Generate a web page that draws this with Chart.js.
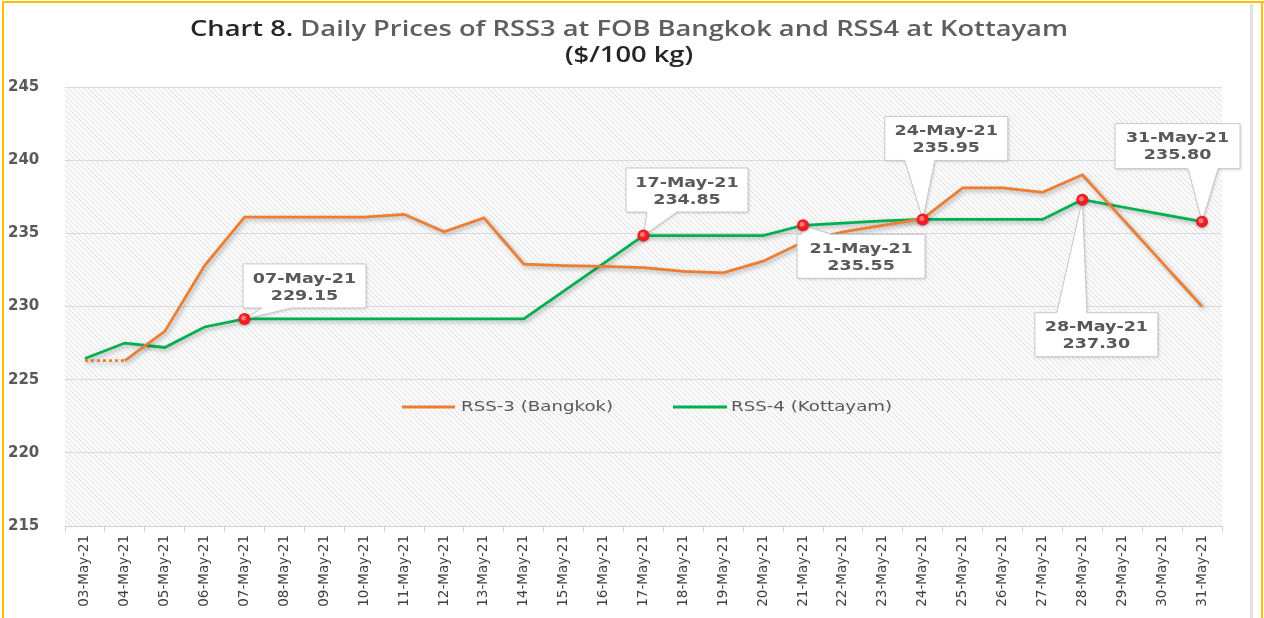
<!DOCTYPE html>
<html>
<head>
<meta charset="utf-8">
<script src="https://cdn.jsdelivr.net/npm/chart.js@4.4.1/dist/chart.umd.min.js"></script>
<style>
  html, body { margin: 0; padding: 0; background: #ffffff; }
  #wrap { position: relative; width: 1264px; height: 618px; }
  canvas { display: block; }
</style>
</head>
<body>
<div id="wrap"><canvas id="c" width="1264" height="618"></canvas></div>
<script>
// ---------- data ----------
const titleLead = 'Chart 8.';
const titleRest = ' Daily Prices of RSS3 at FOB Bangkok and RSS4 at Kottayam';
const titleUnit = '($/100 kg)';

const dates = ['03-May-21','04-May-21','05-May-21','06-May-21','07-May-21','08-May-21','09-May-21',
  '10-May-21','11-May-21','12-May-21','13-May-21','14-May-21','15-May-21','16-May-21','17-May-21',
  '18-May-21','19-May-21','20-May-21','21-May-21','22-May-21','23-May-21','24-May-21','25-May-21',
  '26-May-21','27-May-21','28-May-21','29-May-21','30-May-21','31-May-21'];

const rss3Bangkok = [226.3, 226.3, 228.3, 232.8, 236.1, 236.1, 236.1, 236.1, 236.3, 235.1,
  236.05, 232.9, 232.8, 232.75, 232.65, 232.4, 232.3, 233.1, 234.4, 235.1,
  235.55, 236.0, 238.1, 238.1, 237.8, 239.0, 236.0, 233.0, 230.0];

const rss4Kottayam = [226.45, 227.5, 227.2, 228.6, 229.15, 229.15, 229.15, 229.15, 229.15, 229.15,
  229.15, 229.15, 231.05, 232.95, 234.85, 234.85, 234.85, 234.85, 235.55, 235.7,
  235.85, 235.95, 235.95, 235.95, 235.95, 237.3, 236.8, 236.3, 235.8];

const seriesNames = ['RSS-3 (Bangkok)', 'RSS-4 (Kottayam)'];
const yTicks = [215, 220, 225, 230, 235, 240, 245];
const highlighted = ['07-May-21','17-May-21','21-May-21','24-May-21','28-May-21','31-May-21'];

// ---------- layout of callouts (pixel offsets from the marked point) ----------
const calloutLayout = {
  '07-May-21': { dx: -1.5, dy: -55,  w: 123, h: 44, side: 'bottom', b1: 19, b2: 49 },
  '17-May-21': { dx: -17.5, dy: -67.5, w: 122, h: 44, side: 'bottom', b1: 21, b2: 51 },
  '21-May-21': { dx: -6,   dy: 9,    w: 128, h: 44, side: 'top',    b1: 4,  b2: 34 },
  '24-May-21': { dx: -38,  dy: -103, w: 123, h: 44, side: 'bottom', b1: 20, b2: 50 },
  '28-May-21': { dx: -47.5, dy: 113, w: 123, h: 44, side: 'top',    b1: 22, b2: 52 },
  '31-May-21': { dx: -87,  dy: -98,  w: 125, h: 45, side: 'bottom', b1: 73, b2: 103 }
};

const ORANGE = '#ed7d31';
const GREEN = '#00b050';
const TXT = '#595959';

// hatch pattern
function makePattern(ctx) {
  const p = document.createElement('canvas');
  p.width = 5; p.height = 5;
  const pc = p.getContext('2d');
  pc.fillStyle = '#fbfbfb';
  pc.fillRect(0, 0, 5, 5);
  pc.fillStyle = '#e1e1e1';
  for (let i = 0; i < 5; i++) pc.fillRect(i, i, 1, 1);
  return ctx.createPattern(p, 'repeat');
}

function stretchText(ctx, text, x, y, font, sx, align, color) {
  ctx.save();
  ctx.font = font;
  ctx.fillStyle = color;
  ctx.textBaseline = 'middle';
  const w = ctx.measureText(text).width * sx;
  let left = x;
  if (align === 'center') left = x - w / 2;
  else if (align === 'right') left = x - w;
  ctx.translate(left, y);
  ctx.scale(sx, 1);
  ctx.textAlign = 'left';
  ctx.fillText(text, 0, 0);
  ctx.restore();
  return w;
}

const decorPlugin = {
  id: 'decor',
  beforeDraw(chart) {
    const ctx = chart.ctx;
    const a = chart.chartArea;
    ctx.save();
    ctx.fillStyle = '#ffffff';
    ctx.fillRect(0, 0, chart.width, chart.height);
    ctx.fillStyle = makePattern(ctx);
    ctx.fillRect(a.left, a.top, a.right - a.left, a.bottom - a.top);
    // frame
    ctx.fillStyle = '#e2e2e2';
    ctx.fillRect(1250, 4, 3, chart.height - 4);
    ctx.fillStyle = '#ffc000';
    ctx.fillRect(2, 1, 1262, 2);
    ctx.fillRect(2, 1, 2, chart.height);
    ctx.fillRect(1261, 1, 2, chart.height);
    ctx.restore();

    // title
    const fontT = '600 21px "Open Sans", "DejaVu Sans Condensed", sans-serif';
    ctx.save();
    ctx.font = fontT;
    const wLead = ctx.measureText(titleLead).width;
    const wRest = ctx.measureText(titleRest).width;
    ctx.restore();
    const sx = 878 / (wLead + wRest);
    const startX = 629 - 439;
    stretchText(ctx, titleLead, startX, 30, fontT, sx, 'left', '#262626');
    stretchText(ctx, titleRest, startX + wLead * sx, 30, fontT, sx, 'left', '#5f5f5f');
    stretchText(ctx, titleUnit, 629, 56, fontT, sx, 'center', '#262626');
  },
  beforeDatasetDraw(chart) {
    const ctx = chart.ctx;
    ctx.save();
    ctx.shadowColor = 'rgba(0,0,0,0.3)';
    ctx.shadowBlur = 4;
    ctx.shadowOffsetX = 2;
    ctx.shadowOffsetY = 2;
  },
  afterDatasetDraw(chart) {
    chart.ctx.restore();
  },
  afterDatasetsDraw(chart) {
    const ctx = chart.ctx;
    // legend inside the plot
    const lg = [{ x1: 402, x2: 455, tx: 461 }, { x1: 673, x2: 727, tx: 731 }];
    const ly = 407;
    chart.data.datasets.forEach((ds, i) => {
      ctx.save();
      ctx.strokeStyle = ds.borderColor;
      ctx.lineWidth = 3;
      ctx.beginPath();
      ctx.moveTo(lg[i].x1, ly);
      ctx.lineTo(lg[i].x2, ly);
      ctx.stroke();
      ctx.restore();
      stretchText(ctx, ds.label, lg[i].tx, ly, '14px "DejaVu Sans", sans-serif', 1.3, 'left', TXT);
    });

    // callouts
    const meta = chart.getDatasetMeta(1);
    const xs = chart.scales.x, ys = chart.scales.y;
    highlighted.forEach(lbl => {
      const idx = chart.data.labels.indexOf(lbl);
      if (idx < 0) return;
      const L = calloutLayout[lbl];
      const px = xs.getPixelForValue(idx);
      const py = ys.getPixelForValue(chart.data.datasets[1].data[idx]);
      const left = px + L.dx, top = py + L.dy;
      const right = left + L.w, bottom = top + L.h;
      ctx.save();
      ctx.beginPath();
      if (L.side === 'bottom') {
        ctx.moveTo(left, top);
        ctx.lineTo(right, top);
        ctx.lineTo(right, bottom);
        ctx.lineTo(left + L.b2, bottom);
        ctx.lineTo(px, py);
        ctx.lineTo(left + L.b1, bottom);
        ctx.lineTo(left, bottom);
      } else {
        ctx.moveTo(left, top);
        ctx.lineTo(left + L.b1, top);
        ctx.lineTo(px, py);
        ctx.lineTo(left + L.b2, top);
        ctx.lineTo(right, top);
        ctx.lineTo(right, bottom);
        ctx.lineTo(left, bottom);
      }
      ctx.closePath();
      ctx.shadowColor = 'rgba(0,0,0,0.18)';
      ctx.shadowBlur = 3;
      ctx.shadowOffsetX = 1;
      ctx.shadowOffsetY = 1;
      ctx.fillStyle = '#ffffff';
      ctx.fill();
      ctx.shadowColor = 'transparent';
      ctx.strokeStyle = '#c8c8c8';
      ctx.lineWidth = 1;
      ctx.stroke();
      ctx.restore();
      const cx = (left + right) / 2;
      const f = 'bold 14px "DejaVu Sans", sans-serif';
      stretchText(ctx, lbl, cx, top + 15, f, 1.25, 'center', TXT);
      stretchText(ctx, chart.data.datasets[1].data[idx].toFixed(2), cx, top + 32, f, 1.25, 'center', TXT);
    });
    // redraw markers over callout pointers
    meta.data.forEach((pt, i) => {
      if (highlighted.includes(chart.data.labels[i])) {
        ctx.save();
        ctx.shadowColor = 'rgba(0,0,0,0.3)';
        ctx.shadowBlur = 3;
        ctx.shadowOffsetY = 1;
        ctx.beginPath();
        ctx.arc(pt.x, pt.y, 6, 0, Math.PI * 2);
        ctx.fillStyle = '#f01c24';
        ctx.fill();
        ctx.shadowColor = 'transparent';
        ctx.beginPath();
        ctx.arc(pt.x - 1, pt.y - 1, 2.5, 0, Math.PI * 2);
        ctx.fillStyle = 'rgba(255,140,140,0.8)';
        ctx.fill();
        ctx.restore();
      }
    });
  }
};

new Chart(document.getElementById('c'), {
  type: 'line',
  data: {
    labels: dates,
    datasets: [
      {
        label: seriesNames[0],
        data: rss3Bangkok,
        borderColor: ORANGE,
        backgroundColor: ORANGE,
        borderWidth: 2.75,
        pointRadius: 0,
        tension: 0,
        segment: { borderDash: c => (c.p0DataIndex === 0 ? [3, 3] : undefined) }
      },
      {
        label: seriesNames[1],
        data: rss4Kottayam,
        borderColor: GREEN,
        backgroundColor: GREEN,
        borderWidth: 2.75,
        pointRadius: 0,
        tension: 0
      }
    ]
  },
  options: {
    responsive: false,
    animation: false,
    devicePixelRatio: 1,
    layout: { padding: { left: 8, right: 42, top: 87, bottom: 0 } },
    plugins: {
      legend: { display: false },
      title: { display: false },
      tooltip: { enabled: false }
    },
    scales: {
      x: {
        offset: true,
        grid: { drawOnChartArea: false, drawTicks: true, tickLength: 6, color: '#d0d0d0', offset: true },
        border: { display: true, color: '#d0d0d0', width: 1 },
        ticks: {
          autoSkip: false,
          maxRotation: 90,
          minRotation: 90,
          padding: 3,
          color: '#404040',
          font: { family: '"DejaVu Sans", sans-serif', size: 13.5 }
        },
        afterFit: s => { s.height = 92; }
      },
      y: {
        min: 215,
        max: 245,
        afterBuildTicks: s => { s.ticks = yTicks.map(v => ({ value: v })); },
        grid: { color: '#dadada', drawTicks: false, lineWidth: 1 },
        border: { display: false },
        ticks: {
          crossAlign: 'far',
          color: TXT,
          padding: 0,
          font: { family: '"DejaVu Sans", sans-serif', size: 15, weight: 'bold' }
        },
        afterFit: s => { s.width = 57; }
      }
    }
  },
  plugins: [decorPlugin]
});
</script>
</body>
</html>
